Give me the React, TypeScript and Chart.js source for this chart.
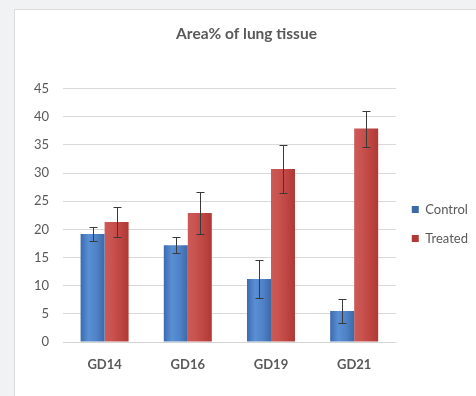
import React, { useEffect, useRef } from "react";
import { Chart, registerables } from "chart.js";

Chart.register(...registerables);

const categories = ["GD14", "GD16", "GD19", "GD21"];
const controlValues = [19.2, 17.2, 11.2, 5.5];
const controlErrors = [1.3, 1.4, 3.3, 2.1];
const treatedValues = [21.3, 22.9, 30.7, 37.9];
const treatedErrors = [2.7, 3.8, 4.3, 3.2];
const seriesNames = ["Control", "Treated"];
const yTicks = [0, 5, 10, 15, 20, 25, 30, 35, 40, 45];
const chartTitle = "Area% of lung tissue";

const errorLists = [controlErrors, treatedErrors];

const errorBarPlugin = {
  id: "errorBars",
  afterDatasetsDraw(chart: any) {
    const ctx = chart.ctx;
    const yScale = chart.scales.y;
    ctx.save();
    ctx.strokeStyle = "#3a3a3a";
    ctx.lineWidth = 1;
    chart.data.datasets.forEach((ds: any, di: number) => {
      const meta = chart.getDatasetMeta(di);
      if (meta.hidden) return;
      meta.data.forEach((bar: any, i: number) => {
        const v = ds.data[i];
        const e = errorLists[di][i];
        const yTop = Math.round(yScale.getPixelForValue(v + e)) + 0.5;
        const yBot = Math.round(yScale.getPixelForValue(v - e)) + 0.5;
        const x = Math.round(bar.x) + 0.5;
        const cap = 4;
        ctx.beginPath();
        ctx.moveTo(x, yTop);
        ctx.lineTo(x, yBot);
        ctx.moveTo(x - cap, yTop);
        ctx.lineTo(x + cap, yTop);
        ctx.moveTo(x - cap, yBot);
        ctx.lineTo(x + cap, yBot);
        ctx.stroke();
      });
    });
    ctx.restore();
  },
};

function makeGradient(stops: string[], fallback: string) {
  return (c: any) => {
    const el = c.element;
    const chart = c.chart;
    if (!el || el.x === undefined || el.width === undefined || !chart.ctx) return fallback;
    const x0 = el.x - el.width / 2;
    const x1 = el.x + el.width / 2;
    if (!isFinite(x0) || !isFinite(x1)) return fallback;
    const g = chart.ctx.createLinearGradient(x0, 0, x1, 0);
    stops.forEach((s, i) => g.addColorStop(i / (stops.length - 1), s));
    return g;
  };
}

const FONT = "Lato, 'Open Sans', sans-serif";

export default function App() {
  const canvasRef = useRef<HTMLCanvasElement | null>(null);

  useEffect(() => {
    if (!canvasRef.current) return;
    const chart = new Chart(canvasRef.current, {
      type: "bar",
      data: {
        labels: categories,
        datasets: [
          {
            label: seriesNames[0],
            data: controlValues,
            backgroundColor: makeGradient(["#3b6bb0", "#5a8fd3", "#4f82c6", "#3c69a8"], "#4a7cc0"),
            borderWidth: 0,
          },
          {
            label: seriesNames[1],
            data: treatedValues,
            backgroundColor: makeGradient(["#cc5a56", "#c8524f", "#bd4542", "#b03936"], "#c0504d"),
            borderWidth: 0,
          },
        ],
      },
      options: {
        animation: false,
        responsive: false,
        devicePixelRatio: 1,
        layout: { padding: { left: 0, right: -2, top: 0, bottom: 0 } },
        datasets: {
          bar: { categoryPercentage: 0.577, barPercentage: 1.0 },
        },
        scales: {
          x: {
            grid: { display: false },
            border: { display: true, color: "#d4d4d4" },
            ticks: {
              color: "#595959",
              font: { family: FONT, size: 13, weight: "bold" },
              padding: 7,
            },
            afterFit: (scale: any) => {
              scale.height = 54;
            },
          },
          y: {
            min: 0,
            max: 45,
            afterBuildTicks: (scale: any) => {
              scale.ticks = yTicks.map((v) => ({ value: v }));
            },
            grid: { color: "#d9d9d9", drawTicks: false },
            border: { display: false },
            ticks: {
              color: "#595959",
              font: { family: FONT, size: 13 },
              padding: 14,
            },
            afterFit: (scale: any) => {
              scale.width = 48;
            },
          },
        },
        plugins: {
          title: {
            display: true,
            text: chartTitle,
            color: "#595959",
            font: { family: FONT, size: 15.5, weight: "bold" },
            padding: { top: 15, bottom: 45 },
          },
          legend: {
            position: "right",
            title: {
              display: true,
              text: " ",
              font: { family: FONT, size: 10 },
              padding: { top: 15, bottom: 15 },
            },
            labels: {
              color: "#595959",
              font: { family: FONT, size: 13 },
              boxWidth: 7,
              boxHeight: 7,
              padding: 16,
            },
          },
          tooltip: { enabled: false },
        },
      },
      plugins: [errorBarPlugin],
    });
    chart.update();
    return () => chart.destroy();
  }, []);

  return (
    <div
      style={{
        position: "fixed",
        left: 0,
        top: 0,
        width: 476,
        height: 396,
        background: "#f1f2f3",
        overflow: "hidden",
      }}
    >
      <div
        style={{
          position: "absolute",
          left: 14,
          top: 9,
          width: 470,
          height: 395,
          background: "#ffffff",
          border: "1px solid #dcdcdc",
        }}
      >
        <canvas ref={canvasRef} width={461} height={386} style={{ display: "block" }} />
      </div>
    </div>
  );
}
